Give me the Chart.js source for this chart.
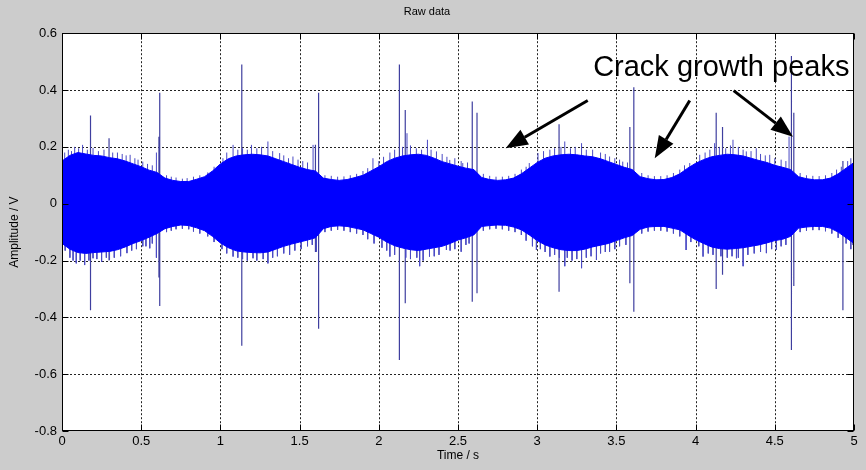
<!DOCTYPE html>
<html>
<head>
<meta charset="utf-8">
<script src="https://cdn.jsdelivr.net/npm/chart.js@4/dist/chart.umd.min.js"></script>
<style>
  html, body { margin: 0; padding: 0; background: #cccccc; }
  #wrap { width: 866px; height: 470px; }
</style>
</head>
<body>
<div id="wrap"><canvas id="c" width="866" height="470"></canvas></div>
<script>
// ---- data ----
const titleText = "Raw data";
const xAxisTitle = "Time / s";
const yAxisTitle = "Amplitude / V";
const annotationText = "Crack growth peaks";

const xTickValues = [0, 0.5, 1, 1.5, 2, 2.5, 3, 3.5, 4, 4.5, 5];
const xTickLabels = ["0", "0.5", "1", "1.5", "2", "2.5", "3", "3.5", "4", "4.5", "5"];
const yTickValues = [-0.8, -0.6, -0.4, -0.2, 0, 0.2, 0.4, 0.6];
const yTickLabels = ["-0.8", "-0.6", "-0.4", "-0.2", "0", "0.2", "0.4", "0.6"];

// envelope sample times (s)
const envTime = [
  0.00, 0.05, 0.10, 0.15, 0.20, 0.25, 0.30, 0.35, 0.40, 0.45,
  0.50, 0.55, 0.60, 0.65, 0.70, 0.75, 0.80, 0.85, 0.90, 0.95,
  1.00, 1.05, 1.10, 1.15, 1.20, 1.25, 1.30, 1.35, 1.40, 1.45,
  1.50, 1.55, 1.60, 1.65, 1.70, 1.75, 1.80, 1.85, 1.90, 1.95,
  2.00, 2.05, 2.10, 2.15, 2.20, 2.25, 2.30, 2.35, 2.40, 2.45,
  2.50, 2.55, 2.60, 2.65, 2.70, 2.75, 2.80, 2.85, 2.90, 2.95,
  3.00, 3.05, 3.10, 3.15, 3.20, 3.25, 3.30, 3.35, 3.40, 3.45,
  3.50, 3.55, 3.60, 3.65, 3.70, 3.75, 3.80, 3.85, 3.90, 3.95,
  4.00, 4.05, 4.10, 4.15, 4.20, 4.25, 4.30, 4.35, 4.40, 4.45,
  4.50, 4.55, 4.60, 4.65, 4.70, 4.75, 4.80, 4.85, 4.90, 4.95,
  5.00
];
// upper edge of the dense signal band (V)
const envUpper = [
  0.150, 0.170, 0.180, 0.175, 0.170, 0.168, 0.162, 0.158, 0.150, 0.140,
  0.130, 0.118, 0.110, 0.090, 0.082, 0.078, 0.078, 0.086, 0.095, 0.115,
  0.140, 0.158, 0.168, 0.172, 0.174, 0.172, 0.168, 0.158, 0.148, 0.138,
  0.128, 0.120, 0.115, 0.090, 0.085, 0.082, 0.085, 0.092, 0.100, 0.115,
  0.130, 0.148, 0.160, 0.168, 0.172, 0.174, 0.170, 0.160, 0.148, 0.140,
  0.132, 0.125, 0.120, 0.092, 0.085, 0.082, 0.084, 0.090, 0.105, 0.125,
  0.145, 0.160, 0.168, 0.172, 0.174, 0.172, 0.168, 0.165, 0.158, 0.148,
  0.138, 0.128, 0.120, 0.095, 0.088, 0.084, 0.085, 0.092, 0.105, 0.125,
  0.142, 0.155, 0.165, 0.170, 0.174, 0.172, 0.168, 0.160, 0.152, 0.145,
  0.135, 0.128, 0.120, 0.095, 0.088, 0.084, 0.084, 0.090, 0.105, 0.125,
  0.145
];
// lower edge of the dense signal band (V)
const envLower = [
  -0.140, -0.160, -0.172, -0.175, -0.172, -0.170, -0.168, -0.162, -0.152, -0.140,
  -0.130, -0.118, -0.105, -0.088, -0.080, -0.075, -0.077, -0.085, -0.095, -0.115,
  -0.138, -0.155, -0.166, -0.170, -0.172, -0.173, -0.170, -0.160, -0.150, -0.142,
  -0.135, -0.128, -0.120, -0.088, -0.080, -0.078, -0.080, -0.086, -0.092, -0.105,
  -0.118, -0.135, -0.148, -0.156, -0.162, -0.165, -0.160, -0.155, -0.150, -0.140,
  -0.128, -0.120, -0.110, -0.080, -0.077, -0.075, -0.076, -0.082, -0.092, -0.110,
  -0.130, -0.145, -0.155, -0.162, -0.165, -0.165, -0.160, -0.152, -0.146, -0.140,
  -0.130, -0.120, -0.112, -0.090, -0.082, -0.080, -0.080, -0.086, -0.092, -0.110,
  -0.127, -0.140, -0.152, -0.158, -0.160, -0.158, -0.155, -0.150, -0.145, -0.138,
  -0.130, -0.125, -0.115, -0.086, -0.082, -0.080, -0.080, -0.086, -0.100, -0.120,
  -0.140
];

// large isolated spikes: time, max, min (V)
const spikeTime = [0.180, 0.297, 0.612, 0.617, 1.135, 1.600, 1.620, 2.130, 2.167, 2.590, 2.620, 3.138, 3.585, 3.610, 4.130, 4.170, 4.605, 4.620, 4.930];
const spikeMax  = [0.310, 0.230, 0.236, 0.390, 0.490, 0.207, 0.390, 0.490, 0.330, 0.360, 0.320, 0.280, 0.270, 0.410, 0.320, 0.270, 0.520, 0.320, 0.150];
const spikeMin  = [-0.375, -0.200, -0.260, -0.360, -0.500, -0.170, -0.440, -0.550, -0.350, -0.345, -0.315, -0.310, -0.280, -0.380, -0.300, -0.250, -0.515, -0.290, -0.375];

// small tips sticking out of the band, upper side
const tipUpTime = [
  0.017, 0.040, 0.060, 0.080, 0.105, 0.130, 0.160, 0.196, 0.230, 0.265, 0.320, 0.350, 0.380, 0.405, 0.430, 0.460, 0.480, 0.510, 0.540, 0.570, 0.596,
  0.660, 0.690, 0.720, 0.760, 0.790, 0.830, 0.870, 0.920, 0.960,
  1.016, 1.040, 1.080, 1.110, 1.140, 1.170, 1.196, 1.230, 1.260, 1.300, 1.330, 1.374, 1.400, 1.430, 1.458, 1.490, 1.520, 1.550, 1.585,
  1.660, 1.700, 1.740, 1.780, 1.820, 1.860, 1.900, 1.930, 1.963,
  2.000, 2.030, 2.070, 2.100, 2.150, 2.178, 2.200, 2.237, 2.270, 2.307, 2.330, 2.364, 2.400, 2.430, 2.448, 2.480, 2.520, 2.530, 2.560,
  2.660, 2.700, 2.740, 2.780, 2.820, 2.860, 2.900, 2.930, 2.950,
  3.005, 3.040, 3.080, 3.110, 3.150, 3.174, 3.210, 3.240, 3.280, 3.310, 3.350, 3.400, 3.430, 3.457, 3.490, 3.520, 3.540, 3.570,
  3.660, 3.700, 3.740, 3.780, 3.820, 3.860, 3.900, 3.930, 3.963,
  4.026, 4.060, 4.090, 4.120, 4.150, 4.190, 4.220, 4.236, 4.270, 4.300, 4.320, 4.350, 4.383, 4.410, 4.440, 4.468, 4.500, 4.540, 4.570, 4.590,
  4.660, 4.700, 4.740, 4.780, 4.820, 4.860, 4.890, 4.920, 4.960, 4.980
];
const tipUpVal = [
  0.180, 0.190, 0.185, 0.200, 0.195, 0.207, 0.190, 0.196, 0.185, 0.190, 0.180, 0.180, 0.175, 0.170, 0.172, 0.160, 0.155, 0.148, 0.140, 0.135, 0.180,
  0.100, 0.095, 0.092, 0.088, 0.090, 0.095, 0.100, 0.110, 0.130,
  0.160, 0.180, 0.207, 0.190, 0.195, 0.190, 0.207, 0.195, 0.200, 0.219, 0.185, 0.178, 0.170, 0.160, 0.166, 0.155, 0.150, 0.145, 0.207,
  0.100, 0.098, 0.095, 0.096, 0.100, 0.105, 0.115, 0.125, 0.160,
  0.150, 0.165, 0.180, 0.190, 0.200, 0.248, 0.205, 0.195, 0.190, 0.225, 0.190, 0.184, 0.175, 0.165, 0.154, 0.160, 0.150, 0.143, 0.145,
  0.105, 0.098, 0.095, 0.095, 0.098, 0.105, 0.120, 0.130, 0.143,
  0.178, 0.185, 0.190, 0.195, 0.200, 0.219, 0.195, 0.200, 0.213, 0.190, 0.190, 0.180, 0.175, 0.166, 0.160, 0.155, 0.148, 0.145,
  0.108, 0.100, 0.097, 0.097, 0.100, 0.108, 0.120, 0.135, 0.143,
  0.172, 0.180, 0.190, 0.213, 0.200, 0.195, 0.205, 0.225, 0.200, 0.190, 0.184, 0.185, 0.195, 0.175, 0.170, 0.172, 0.160, 0.155, 0.150, 0.236,
  0.108, 0.100, 0.098, 0.097, 0.100, 0.108, 0.120, 0.130, 0.150, 0.160
];
// small tips, lower side
const tipDnTime = [
  0.020, 0.050, 0.070, 0.090, 0.115, 0.143, 0.170, 0.196, 0.220, 0.250, 0.280, 0.300, 0.330, 0.370, 0.410, 0.440, 0.470, 0.510, 0.530, 0.554, 0.570, 0.596,
  0.660, 0.690, 0.720, 0.760, 0.800, 0.830, 0.870, 0.920, 0.960,
  1.010, 1.040, 1.080, 1.110, 1.140, 1.170, 1.206, 1.230, 1.270, 1.300, 1.330, 1.360, 1.400, 1.437, 1.470, 1.510, 1.550, 1.580, 1.606,
  1.660, 1.700, 1.740, 1.780, 1.820, 1.860, 1.900, 1.930, 1.970,
  2.020, 2.050, 2.070, 2.100, 2.170, 2.200, 2.240, 2.258, 2.280, 2.320, 2.350, 2.380, 2.427, 2.450, 2.480, 2.520, 2.550, 2.570,
  2.660, 2.700, 2.740, 2.780, 2.820, 2.860, 2.900, 2.930, 2.970, 2.995,
  3.020, 3.050, 3.080, 3.110, 3.140, 3.174, 3.190, 3.220, 3.250, 3.280, 3.310, 3.340, 3.374, 3.400, 3.430, 3.457, 3.490, 3.520, 3.560,
  3.660, 3.700, 3.740, 3.780, 3.820, 3.860, 3.900, 3.940, 3.970,
  4.020, 4.047, 4.080, 4.110, 4.160, 4.200, 4.230, 4.258, 4.270, 4.300, 4.330, 4.370, 4.410, 4.447, 4.480, 4.510, 4.540, 4.570,
  4.660, 4.700, 4.740, 4.780, 4.820, 4.860, 4.900, 4.950, 4.980, 4.994
];
const tipDnVal = [
  -0.165, -0.190, -0.200, -0.210, -0.200, -0.216, -0.200, -0.192, -0.195, -0.205, -0.190, -0.198, -0.190, -0.185, -0.174, -0.165, -0.160, -0.150, -0.150, -0.157, -0.140, -0.190,
  -0.100, -0.095, -0.090, -0.088, -0.090, -0.098, -0.105, -0.115, -0.135,
  -0.160, -0.175, -0.186, -0.190, -0.195, -0.200, -0.192, -0.200, -0.195, -0.210, -0.190, -0.185, -0.175, -0.180, -0.165, -0.160, -0.150, -0.145, -0.169,
  -0.100, -0.095, -0.092, -0.095, -0.100, -0.105, -0.110, -0.125, -0.140,
  -0.155, -0.165, -0.186, -0.180, -0.190, -0.195, -0.190, -0.220, -0.200, -0.186, -0.185, -0.180, -0.163, -0.165, -0.160, -0.169, -0.145, -0.140,
  -0.095, -0.090, -0.088, -0.090, -0.095, -0.100, -0.110, -0.130, -0.150, -0.163,
  -0.160, -0.170, -0.186, -0.180, -0.190, -0.220, -0.190, -0.200, -0.195, -0.227, -0.190, -0.185, -0.198, -0.175, -0.170, -0.169, -0.160, -0.150, -0.145,
  -0.105, -0.098, -0.095, -0.095, -0.098, -0.105, -0.115, -0.163, -0.135,
  -0.150, -0.186, -0.175, -0.180, -0.185, -0.190, -0.185, -0.192, -0.190, -0.220, -0.180, -0.175, -0.170, -0.174, -0.160, -0.163, -0.150, -0.145,
  -0.100, -0.095, -0.093, -0.093, -0.097, -0.105, -0.120, -0.140, -0.160, -0.145
];

// annotation arrows in data coordinates: start (t, V) -> head (t, V)
const arrowFromT = [3.319, 3.963, 4.240];
const arrowFromV = [0.363, 0.363, 0.398];
const arrowToT   = [2.801, 3.742, 4.615];
const arrowToV   = [0.195, 0.160, 0.236];
const labelT = 4.162, labelV = 0.450;

// ---- build datasets ----
const upperPts = envTime.map((t, i) => ({ x: t, y: envUpper[i] }));
const lowerPts = envTime.map((t, i) => ({ x: t, y: envLower[i] }));
const spikePts = [];
spikeTime.forEach((t, i) => {
  spikePts.push({ x: t, y: spikeMin[i] }, { x: t, y: spikeMax[i] }, { x: t, y: null });
});
const tipUpPts = [];
tipUpTime.forEach((t, i) => { tipUpPts.push({ x: t, y: 0 }, { x: t, y: tipUpVal[i] }, { x: t, y: null }); });
const tipDnPts = [];
tipDnTime.forEach((t, i) => { tipDnPts.push({ x: t, y: 0 }, { x: t, y: tipDnVal[i] }, { x: t, y: null }); });

const FONT = "'Liberation Sans', Arial, Helvetica, sans-serif";

const matlabFrame = {
  id: 'matlabFrame',
  beforeDraw(chart) {
    const { ctx, chartArea: a } = chart;
    ctx.save();
    ctx.fillStyle = '#cccccc';
    ctx.fillRect(0, 0, chart.width, chart.height);
    ctx.fillStyle = '#ffffff';
    ctx.fillRect(a.left, a.top, a.right - a.left, a.bottom - a.top);
    ctx.restore();
  },
  beforeDatasetsDraw(chart) {
    const { ctx, chartArea: a, scales: { x, y } } = chart;
    ctx.save();
    ctx.strokeStyle = '#222';
    ctx.lineWidth = 1;
    ctx.setLineDash([2, 2]);
    xTickValues.forEach(v => {
      const px = Math.round(x.getPixelForValue(v)) + 0.5;
      if (px <= a.left + 1 || px >= a.right - 1) return;
      ctx.beginPath(); ctx.moveTo(px, a.top); ctx.lineTo(px, a.bottom); ctx.stroke();
    });
    yTickValues.forEach(v => {
      const py = Math.round(y.getPixelForValue(v)) + 0.5;
      if (py <= a.top + 1 || py >= a.bottom - 1) return;
      ctx.beginPath(); ctx.moveTo(a.left, py); ctx.lineTo(a.right, py); ctx.stroke();
    });
    ctx.restore();
  },
  afterDatasetsDraw(chart) {
    const { ctx, chartArea: a, scales: { x, y } } = chart;
    ctx.save();
    ctx.strokeStyle = '#000';
    ctx.lineWidth = 1;
    ctx.setLineDash([]);
    const L = Math.round(a.left) + 0.5, R = Math.round(a.right) - 0.5;
    const T = Math.round(a.top) + 0.5, B = Math.round(a.bottom) - 0.5;
    ctx.strokeRect(L, T, R - L, B - T);
    const tl = 6;
    xTickValues.forEach(v => {
      const px = Math.round(x.getPixelForValue(v)) + 0.5;
      ctx.beginPath();
      ctx.moveTo(px, B); ctx.lineTo(px, B - tl);
      ctx.moveTo(px, T); ctx.lineTo(px, T + tl);
      ctx.stroke();
    });
    yTickValues.forEach(v => {
      const py = Math.round(y.getPixelForValue(v)) + 0.5;
      ctx.beginPath();
      ctx.moveTo(L, py); ctx.lineTo(L + tl, py);
      ctx.moveTo(R, py); ctx.lineTo(R - tl, py);
      ctx.stroke();
    });
    // arrows
    ctx.fillStyle = '#000';
    ctx.strokeStyle = '#000';
    ctx.lineWidth = 3;
    arrowFromT.forEach((t0, i) => {
      const x0 = x.getPixelForValue(t0), y0 = y.getPixelForValue(arrowFromV[i]);
      const x1 = x.getPixelForValue(arrowToT[i]), y1 = y.getPixelForValue(arrowToV[i]);
      const ang = Math.atan2(y1 - y0, x1 - x0);
      const hl = 22, hw = 8.5;
      const bx = x1 - hl * Math.cos(ang), by = y1 - hl * Math.sin(ang);
      ctx.beginPath(); ctx.moveTo(x0, y0); ctx.lineTo(bx, by); ctx.stroke();
      ctx.beginPath();
      ctx.moveTo(x1, y1);
      ctx.lineTo(bx + hw * Math.sin(ang), by - hw * Math.cos(ang));
      ctx.lineTo(bx - hw * Math.sin(ang), by + hw * Math.cos(ang));
      ctx.closePath(); ctx.fill();
    });
    ctx.font = "29px " + FONT;
    ctx.textAlign = 'center';
    ctx.textBaseline = 'alphabetic';
    ctx.fillText(annotationText, x.getPixelForValue(labelT), y.getPixelForValue(labelV));
    ctx.restore();
  }
};

new Chart(document.getElementById('c'), {
  type: 'line',
  data: {
    datasets: [
      { label: 'lower', data: lowerPts, borderColor: '#0000ff', borderWidth: 1, pointRadius: 0, fill: false, order: 1, tension: 0 },
      { label: 'upper', data: upperPts, borderColor: '#0000ff', backgroundColor: '#0000ff', borderWidth: 1, pointRadius: 0, fill: '-1', order: 1, tension: 0 },
      { label: 'spikes', data: spikePts, borderColor: '#3f3f9f', borderWidth: 1.2, pointRadius: 0, fill: false, spanGaps: false, order: 3 },
      { label: 'tipsUp', data: tipUpPts, borderColor: '#4a4ac4', borderWidth: 1, pointRadius: 0, fill: false, spanGaps: false, order: 2 },
      { label: 'tipsDn', data: tipDnPts, borderColor: '#4a4ac4', borderWidth: 1, pointRadius: 0, fill: false, spanGaps: false, order: 2 }
    ]
  },
  options: {
    responsive: false,
    animation: false,
    events: [],
    layout: { padding: { left: 0, right: 12, top: 0, bottom: 0 } },
    plugins: {
      legend: { display: false },
      tooltip: { enabled: false },
      title: {
        display: true, text: titleText, color: '#000',
        font: { family: FONT, size: 11, weight: 'normal' },
        padding: { top: 5, bottom: 15 }
      }
    },
    scales: {
      x: {
        type: 'linear', min: 0, max: 5,
        afterBuildTicks: s => { s.ticks = xTickValues.map(v => ({ value: v })); },
        afterFit: s => { s.height = 39; },
        ticks: {
          color: '#000', font: { family: FONT, size: 13 }, padding: 3, maxRotation: 0, autoSkip: false,
          callback: (v, i) => xTickLabels[i]
        },
        grid: { display: false, drawTicks: false },
        border: { display: false },
        title: { display: true, text: xAxisTitle, color: '#000', font: { family: FONT, size: 12 }, padding: { top: 0, bottom: 7 } }
      },
      y: {
        type: 'linear', min: -0.8, max: 0.6,
        afterBuildTicks: s => { s.ticks = yTickValues.map(v => ({ value: v })); },
        afterFit: s => { s.width = 62; },
        ticks: {
          color: '#000', font: { family: FONT, size: 13 }, padding: 5, autoSkip: false,
          callback: (v, i) => yTickLabels[i]
        },
        grid: { display: false, drawTicks: false },
        border: { display: false },
        title: { display: true, text: yAxisTitle, color: '#000', font: { family: FONT, size: 12 }, padding: { top: 7, bottom: 0 } }
      }
    }
  },
  plugins: [matlabFrame]
});
</script>
</body>
</html>
